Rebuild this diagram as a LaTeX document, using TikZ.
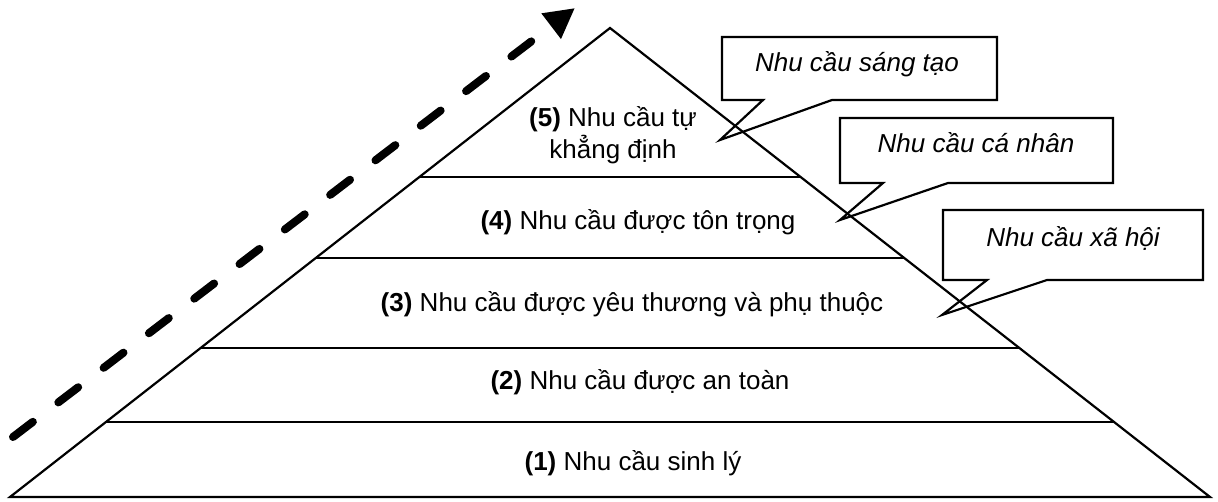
\documentclass[tikz,border=0pt]{standalone}
\usepackage{fontspec}
\setmainfont{Liberation Sans}
\usetikzlibrary{arrows.meta,calc}
\begin{document}
\begin{tikzpicture}[x=1pt,y=-1pt,
  edge/.style={line width=2.2pt, line join=miter},
  sep/.style={line width=2.6pt},
  lbl/.style={font=\fontsize{26}{32}\selectfont, inner sep=0pt, anchor=base},
  calltext/.style={font=\fontsize{26}{29}\selectfont\itshape, inner sep=0pt, anchor=base},
  bubble/.style={line width=2.2pt, line join=miter},
  growth/.style={line width=8pt, dash pattern=on 25pt off 32pt, line cap=round,
    -{Triangle[length=30pt,width=30pt]}}]
\useasboundingbox (0,0) rectangle (1218,502);
% pyramid
\coordinate (apex) at (610,28);
\coordinate (bl) at (10,497);
\coordinate (br) at (1210,497);
\draw[edge] (bl) -- (apex) -- (br) -- cycle;
\foreach \t in {0.8401,0.6823,0.4904,0.3177}{
  \draw[sep] ($(apex)!\t!(bl)$) -- ($(apex)!\t!(br)$);
}
% level labels
\node[lbl] (l1) at (633,470) {\textbf{(1)} Nhu cầu sinh lý};
\node[lbl] (l2) at (640,390) {\textbf{(2)} Nhu cầu được an toàn};
\node[lbl] (l3) at (632,312) {\textbf{(3)} Nhu cầu được yêu thương và phụ thuộc};
\node[lbl] (l4) at (638,230) {\textbf{(4)} Nhu cầu được tôn trọng};
\node[lbl, align=center] (l5) at (613,159) {\textbf{(5)} Nhu cầu tự\\khẳng định};
% growth arrow
\coordinate (gs) at (13,437);
\coordinate (ge) at (575,8);
\draw[growth] (gs) -- (ge);
% callouts
\node[calltext] (c1) at (857,72) {Nhu cầu sáng tạo};
\node[calltext] (c2) at (976,153) {Nhu cầu cá nhân};
\node[calltext] (c3) at (1073,247) {Nhu cầu xã hội};
\draw[bubble] (722,37) -- (997,37) -- (997,100) -- (832,100) -- (720,140) -- (763,100) -- (722,100) -- cycle;
\draw[bubble] (840,118) -- (1113,118) -- (1113,183) -- (948,183) -- (840,220) -- (883,183) -- (840,183) -- cycle;
\draw[bubble] (943,210) -- (1203,210) -- (1203,280) -- (1047,280) -- (942,315) -- (987,280) -- (943,280) -- cycle;
\end{tikzpicture}
\end{document}
